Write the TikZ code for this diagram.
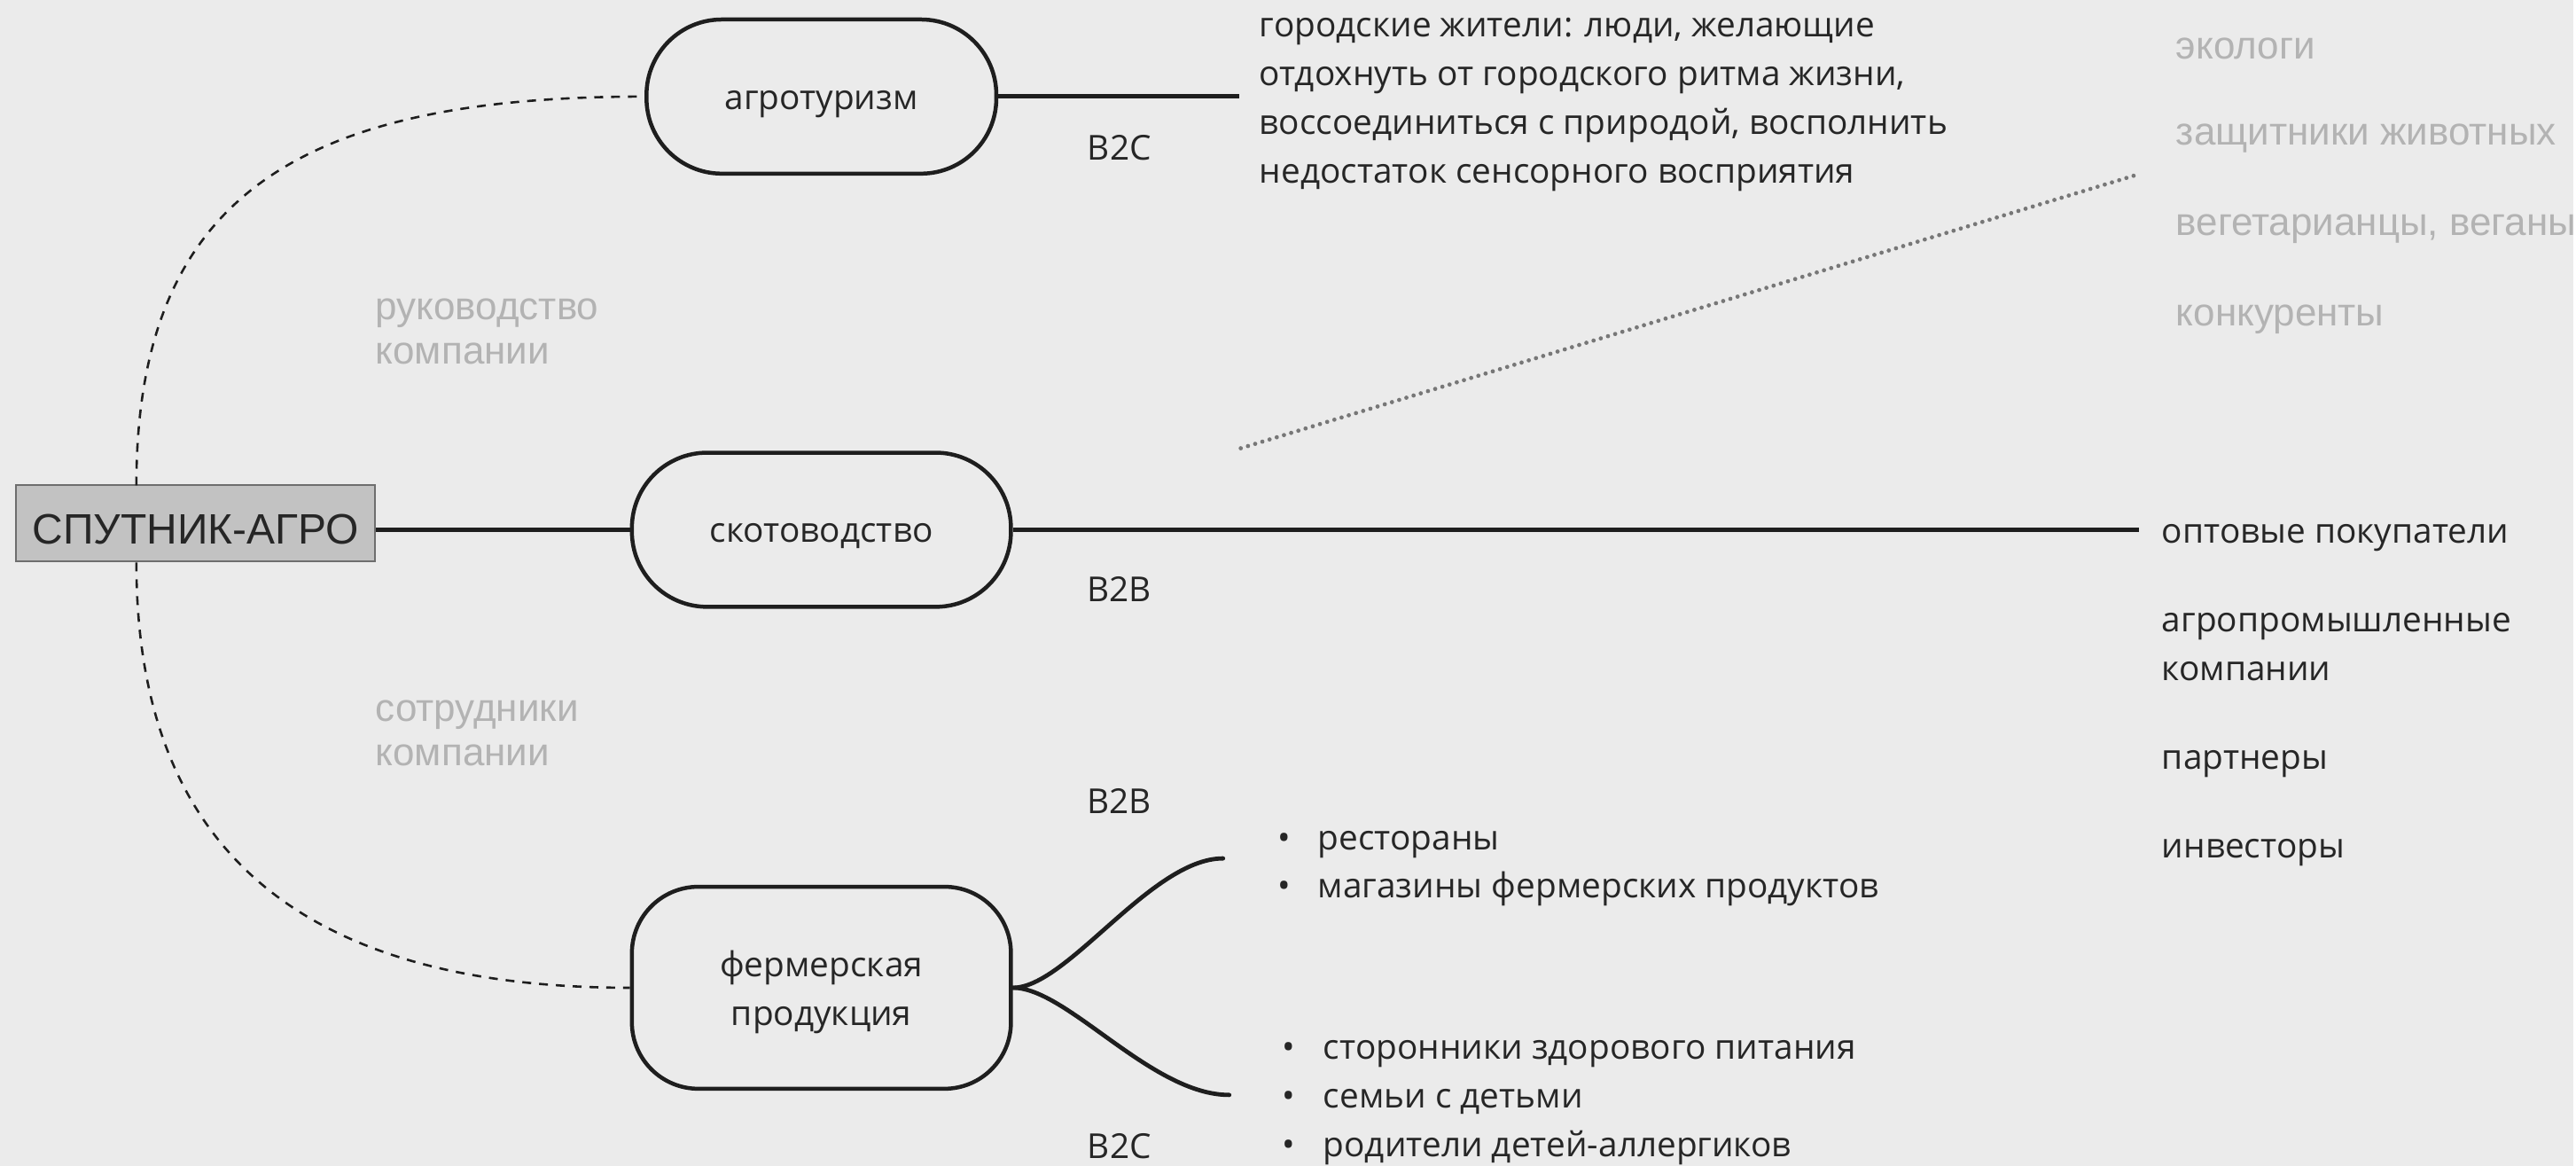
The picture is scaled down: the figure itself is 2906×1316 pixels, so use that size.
\documentclass[tikz,border=0pt]{standalone}
\usepackage{fontspec}
\setmainfont{Open Sans}
\newfontfamily\grayfont{Liberation Sans}
\definecolor{bg}{HTML}{EBEBEB}
\definecolor{ink}{HTML}{1E1E1E}
\definecolor{txt}{HTML}{262626}
\definecolor{light}{HTML}{B3B3B3}
\definecolor{boxfill}{HTML}{C2C2C2}
\definecolor{boxline}{HTML}{6E6E6E}
\definecolor{dotc}{HTML}{777777}
\begin{document}
\begin{tikzpicture}[x=1pt,y=-1pt,
  topic/.style={draw=ink, line width=4.5pt, rounded corners=85pt, minimum height=174pt,
     text=txt, font=\fontsize{38.8}{55}\selectfont, align=center, inner sep=0pt},
  body/.style={text=txt, font=\fontsize{38.8}{55}\selectfont, align=left, inner sep=0pt, anchor=west},
  grey/.style={text=light, font=\grayfont\fontsize{44}{50}\selectfont, align=left, inner sep=0pt, anchor=west},
  tag/.style={text=txt, font=\fontsize{38.8}{55}\selectfont, inner sep=0pt},
  link/.style={draw=ink, line width=4.8pt},
  dashlink/.style={draw=ink, line width=2.6pt, dash pattern=on 10pt off 9pt},
  dotlink/.style={draw=dotc, line width=4.8pt, line cap=round, dash pattern=on 0pt off 8.5pt}
]
\fill[bg] (0,0) rectangle (2906,1316);

% central box
\node[fill=boxfill, draw=boxline, line width=2pt, minimum width=405pt, minimum height=86pt,
      inner sep=0pt, text=txt, font=\grayfont\fontsize{48}{50}\selectfont] (box) at (221,591) {\raisebox{-23pt}[0pt][0pt]{СПУТНИК-АГРО}};

% topics
\node[topic, minimum width=395pt, text height=28.5pt, text depth=0pt] (agro) at (927.5,109) {агротуризм};
\node[topic, minimum width=428pt, text height=28.5pt, text depth=0pt] (cattle) at (927.5,598) {скотоводство};
\node[topic, minimum width=428pt, minimum height=228pt, rounded corners=75pt, text height=91pt, text depth=5pt] (farm) at (927.5,1115) {фермерская\\продукция};

% connectors
\coordinate (dtop) at (154,548);
\coordinate (dbot) at (154,635);
\draw[link] (box.east |- cattle.west) -- (cattle.west);
\draw[dashlink] (dtop) .. controls (154,220) and (340,109) .. (agro.west);
\draw[dashlink] (dbot) .. controls (154,950) and (330,1115) .. (farm.west);

\coordinate (agroEnd) at (1399,109);
\coordinate (cattleEnd) at (2415,598);
\coordinate (dotA) at (1401,506);
\coordinate (dotB) at (2417,196);
\coordinate (b2bEnd) at (1381,969);
\coordinate (b2cEnd) at (1388,1236);
\draw[link] (agro.east) -- (agroEnd);
\draw[link] (cattle.east) -- (cattleEnd);
\draw[dotlink] (dotA) -- (dotB);
\draw[link, line cap=round] (farm.east) .. controls (1205,1115) and (1300,969) .. (b2bEnd);
\draw[link, line cap=round] (farm.east) .. controls (1205,1115) and (1300,1236) .. (b2cEnd);

% B2x labels
\node[tag] (l1) at (1264,167) {B2C};
\node[tag] (l2) at (1264,665) {B2B};
\node[tag] (l3) at (1264,904) {B2B};
\node[tag] (l4) at (1264,1294) {B2C};

% texts
\node[body] (citizens) at (1422,118.5) {городские жители: люди, желающие\\отдохнуть от городского ритма жизни,\\воссоединиться с природой, восполнить\\недостаток сенсорного восприятия};

\node[grey] (mgmt) at (424,374) {руководство\\компании};
\node[grey] (staff) at (424,828) {сотрудники\\компании};

\node[grey] (eco) at (2457,54.5) {экологи};
\node[grey] (anim) at (2457,156) {защитники животных};
\node[grey] (veg) at (2457,258) {вегетарианцы, веганы};
\node[grey] (comp) at (2457,361) {конкуренты};

\node[body] (whole) at (2441,607) {оптовые покупатели};
\node[body] (agroind) at (2441,730) {агропромышленные\\компании};
\node[body] (partn) at (2441,862) {партнеры};
\node[body] (invest) at (2441,962) {инвесторы};

\node[body] (list1) at (1443,980.5) {\makebox[45pt][l]{•}рестораны\\\makebox[45pt][l]{•}магазины фермерских продуктов};
\node[body] (list2) at (1448,1245) {\makebox[46pt][l]{•}сторонники здорового питания\\\makebox[46pt][l]{•}семьи с детьми\\\makebox[46pt][l]{•}родители детей-аллергиков};
\end{tikzpicture}
\end{document}
